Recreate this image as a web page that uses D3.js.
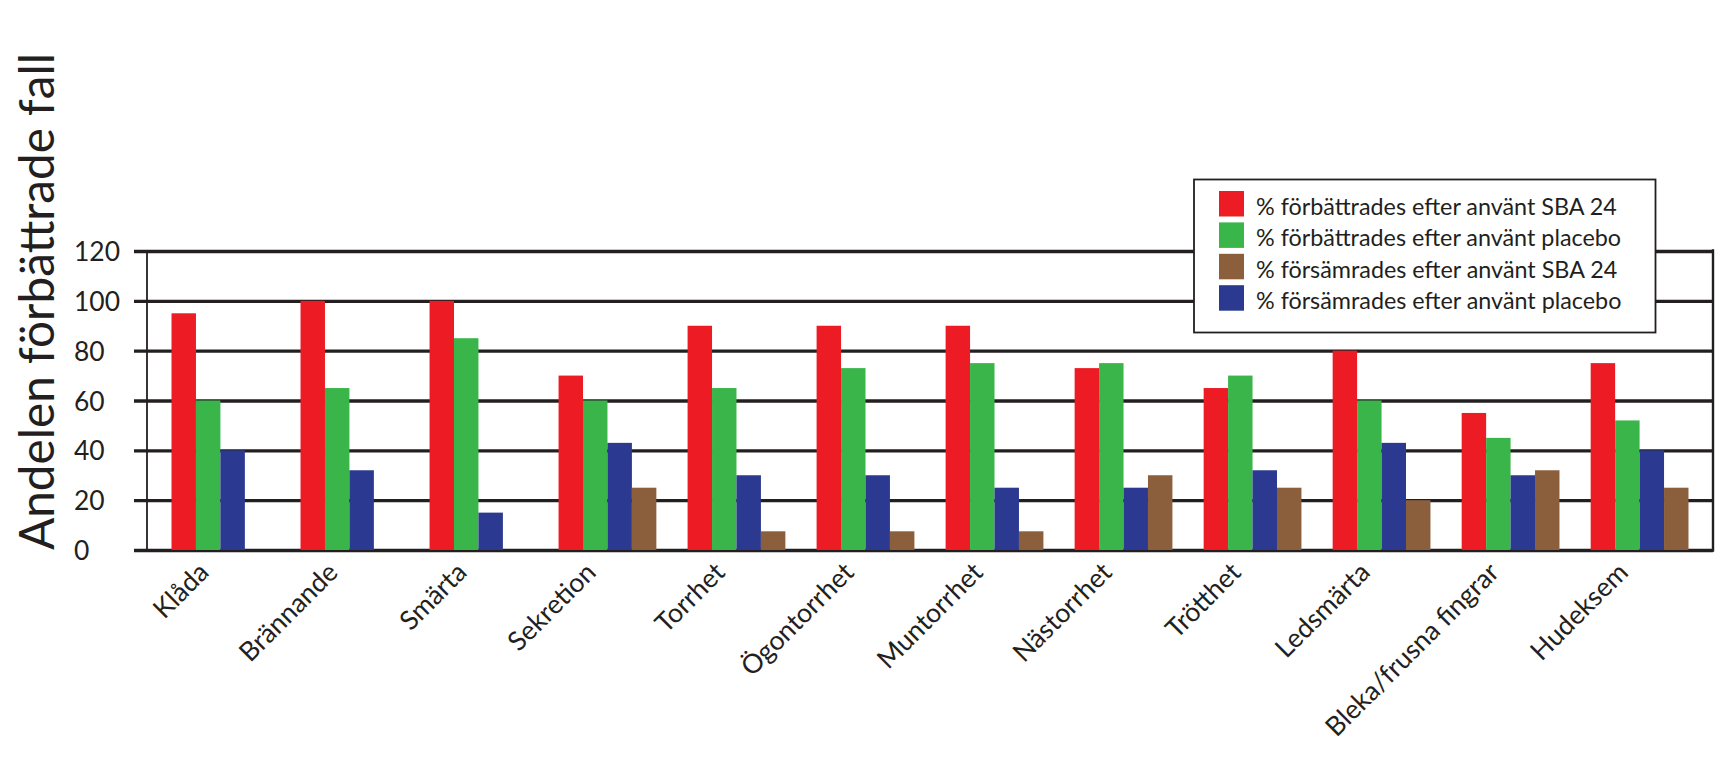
<!DOCTYPE html>
<html>
<head>
<meta charset="utf-8">
<script src="https://cdn.jsdelivr.net/npm/d3@7"></script>
<style>
  html, body { margin: 0; padding: 0; background: #fff; }
  svg { display: block; }
  text { font-family: Lato, "Open Sans", sans-serif; fill: #231f20; }
</style>
</head>
<body>
<svg id="chart" width="1726" height="769"></svg>
<script>
// ---- data ----
const categories = ["Klåda", "Brännande", "Smärta", "Sekretion", "Torrhet", "Ögontorrhet",
  "Muntorrhet", "Nästorrhet", "Trötthet", "Ledsmärta", "Bleka/frusna fingrar", "Hudeksem"];
const sbaImproved     = [95, 100, 100, 70, 90, 90, 90, 73, 65, 80, 55, 75];
const placeboImproved = [60, 65, 85, 60, 65, 73, 75, 75, 70, 60, 45, 52];
const sbaWorse        = [0, 0, 0, 25, 7.5, 7.5, 7.5, 30, 25, 20, 32, 25];
const placeboWorse    = [40, 32, 15, 43, 30, 30, 25, 25, 32, 43, 30, 40];
const seriesNames = ["% förbättrades efter använt SBA 24", "% förbättrades efter använt placebo",
  "% försämrades efter använt SBA 24", "% försämrades efter använt placebo"];
const yTicks = [0, 20, 40, 60, 80, 100, 120];
const yTitle = "Andelen förbättrade fall";

// ---- styles / layout ----
const ink = "#231f20";
const colors = { sbaImp: "#ed1c24", plaImp: "#39b54a", sbaWor: "#8b5e3c", plaWor: "#2b3990" };
// bars drawn in this order within each group: red, green, blue, brown
const barSeries = [
  { key: "sbaImp", values: sbaImproved },
  { key: "plaImp", values: placeboImproved },
  { key: "plaWor", values: placeboWorse },
  { key: "sbaWor", values: sbaWorse }
];
const legendSeries = [
  { key: "sbaImp", name: seriesNames[0] },
  { key: "plaImp", name: seriesNames[1] },
  { key: "sbaWor", name: seriesNames[2] },
  { key: "plaWor", name: seriesNames[3] }
];

const plotLeft = 147, plotRight = 1713, plotTop = 251, plotBottom = 550;
const gridStart = 134;

const svg = d3.select("#chart");

const x0 = d3.scaleBand().domain(categories).range([plotLeft, plotRight])
  .paddingInner(0.242).paddingOuter(0.19);
const x1 = d3.scaleBand().domain(d3.range(barSeries.length)).range([0, x0.bandwidth()]);
const y = d3.scaleLinear().domain([0, 120]).range([plotBottom, plotTop]);

function fitFont(sel, target, base) {
  sel.style("font-size", base + "px");
  const len = sel.node().getComputedTextLength();
  sel.style("font-size", (base * target / len).toFixed(2) + "px");
}

// gridlines via axis
const yAxis = d3.axisLeft(y).tickValues(yTicks).tickSize(-(plotRight - gridStart)).tickPadding(0);
const gAxis = svg.append("g").attr("transform", `translate(${gridStart},0)`).call(yAxis);
gAxis.select(".domain").remove();
gAxis.selectAll(".tick line").attr("stroke", ink).attr("stroke-width", 3.4);
gAxis.selectAll(".tick text")
  .attr("x", 74 - gridStart).attr("dy", "0.36em")
  .attr("text-anchor", "start")
  .style("font-size", "27px").attr("fill", ink);
gAxis.selectAll(".tick text").each(function (d) {
  if (d === 120) fitFont(d3.select(this), 46, 27);
});
const tickSize = gAxis.selectAll(".tick text").filter(d => d === 120).style("font-size");
gAxis.selectAll(".tick text").style("font-size", tickSize);

// left axis line and right border
svg.append("line").attr("x1", plotLeft).attr("x2", plotLeft)
  .attr("y1", y(120)).attr("y2", y(0)).attr("stroke", ink).attr("stroke-width", 1.8);
svg.append("line").attr("x1", plotRight).attr("x2", plotRight)
  .attr("y1", y(120) - 1.7).attr("y2", y(0) + 1.7).attr("stroke", ink).attr("stroke-width", 2.4);

// bars
const groups = svg.append("g").selectAll("g").data(categories).join("g")
  .attr("transform", d => `translate(${x0(d)},0)`);
groups.selectAll("rect")
  .data((d, i) => barSeries.map((s, j) => ({ j, key: s.key, v: s.values[i] })))
  .join("rect")
  .attr("x", d => x1(d.j))
  .attr("width", x1.bandwidth())
  .attr("y", d => y(d.v))
  .attr("height", d => y(0) - y(d.v))
  .attr("fill", d => colors[d.key]);

// category labels
const labels = svg.append("g").selectAll("text").data(categories).join("text")
  .attr("transform", d => `translate(${x0(d) + x0.bandwidth() / 2 - 10},574) rotate(-45)`)
  .attr("text-anchor", "end")
  .text(d => d);
fitFont(labels.filter(d => d === "Bleka/frusna fingrar"), 232, 24);
const labSize = labels.filter(d => d === "Bleka/frusna fingrar").style("font-size");
labels.style("font-size", labSize);

// y title
const title = svg.append("text")
  .attr("transform", "translate(54,550) rotate(-90)")
  .attr("text-anchor", "start")
  .text(yTitle);
fitFont(title, 497, 42);

// legend
const lg = svg.append("g");
lg.append("rect").attr("x", 1194).attr("y", 179.5).attr("width", 461.5).attr("height", 153)
  .attr("fill", "#fff").attr("stroke", ink).attr("stroke-width", 1.8);
const items = lg.selectAll("g").data(legendSeries).join("g")
  .attr("transform", (d, i) => `translate(1219,${191 + i * 31.4})`);
items.append("rect").attr("width", 25).attr("height", 25.5).attr("fill", d => colors[d.key]);
const ltexts = items.append("text").attr("x", 37).attr("y", 24).text(d => d.name);
fitFont(ltexts.filter((d, i) => i === 0), 361, 25);
ltexts.style("font-size", ltexts.filter((d, i) => i === 0).style("font-size"));
</script>
</body>
</html>
